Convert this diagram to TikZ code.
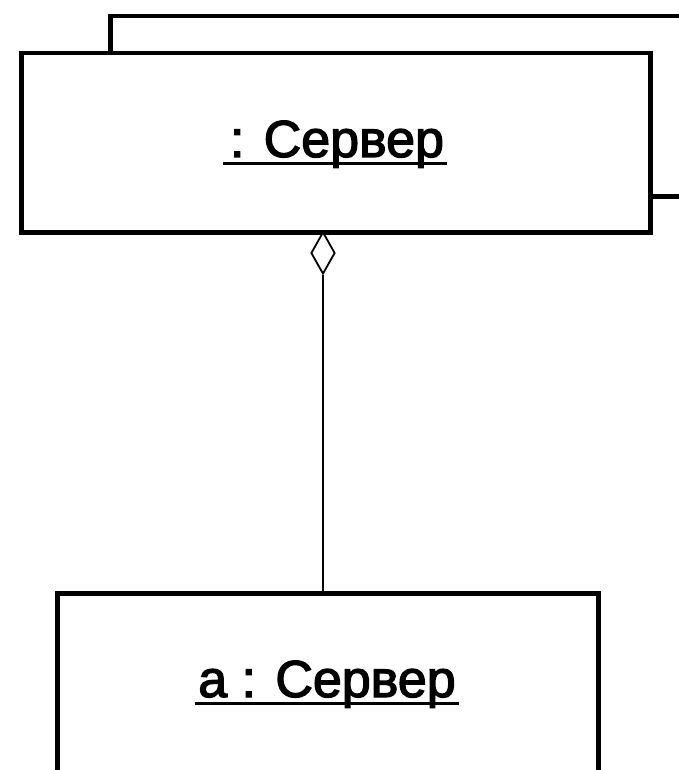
\documentclass[tikz,border=0pt]{standalone}
\usepackage{fontspec}
\setmainfont{Liberation Sans}
\newfontfamily\labelfont[BoldFont={Liberation Sans}, BoldFeatures={FakeBold=2.5}]{Liberation Sans}
\usetikzlibrary{shapes.geometric}
\begin{document}
\begin{tikzpicture}[x=1pt,y=-1pt,
  objbox/.style={draw=black, line width=4.5pt, fill=white, inner sep=0pt, anchor=north west},
  objlabel/.style={inner sep=0pt, anchor=base, font=\labelfont\bfseries\fontsize{52}{60}\selectfont},
  uline/.style={line width=3.8pt},
  aggr/.style={draw=black, line width=1.8pt, shape=diamond, fill=white, minimum width=24pt, minimum height=42pt, inner sep=0pt},
  link/.style={line width=1.8pt}]
\useasboundingbox (0,0) rectangle (679,770);
\clip (0,0) rectangle (679,770);
% back (multi-object) box
\node[objbox, minimum width=700pt, minimum height=180pt] (back) at (108,14) {};
% front box
\node[objbox, minimum width=629pt, minimum height=179pt] (front) at (19,51) {};
\node[objlabel] (t1) at (337,157) {: Сервер};
\draw[uline] ([xshift=-7pt,yshift=-6.5pt]t1.base west) -- ([xshift=3pt,yshift=-6.5pt]t1.base east);
% aggregation diamond
\node[aggr] (diam) at (323,253) {};
% bottom box
\node[objbox, minimum width=541pt, minimum height=240pt] (bot) at (55,591) {};
\node[objlabel] (t2) at (327,697) {a : Сервер};
\draw[uline] ([xshift=-3pt,yshift=-6.5pt]t2.base west) -- ([xshift=3pt,yshift=-6.5pt]t2.base east);
\draw[link] (diam.south) -- (diam.south |- bot.north);
\end{tikzpicture}
\end{document}
